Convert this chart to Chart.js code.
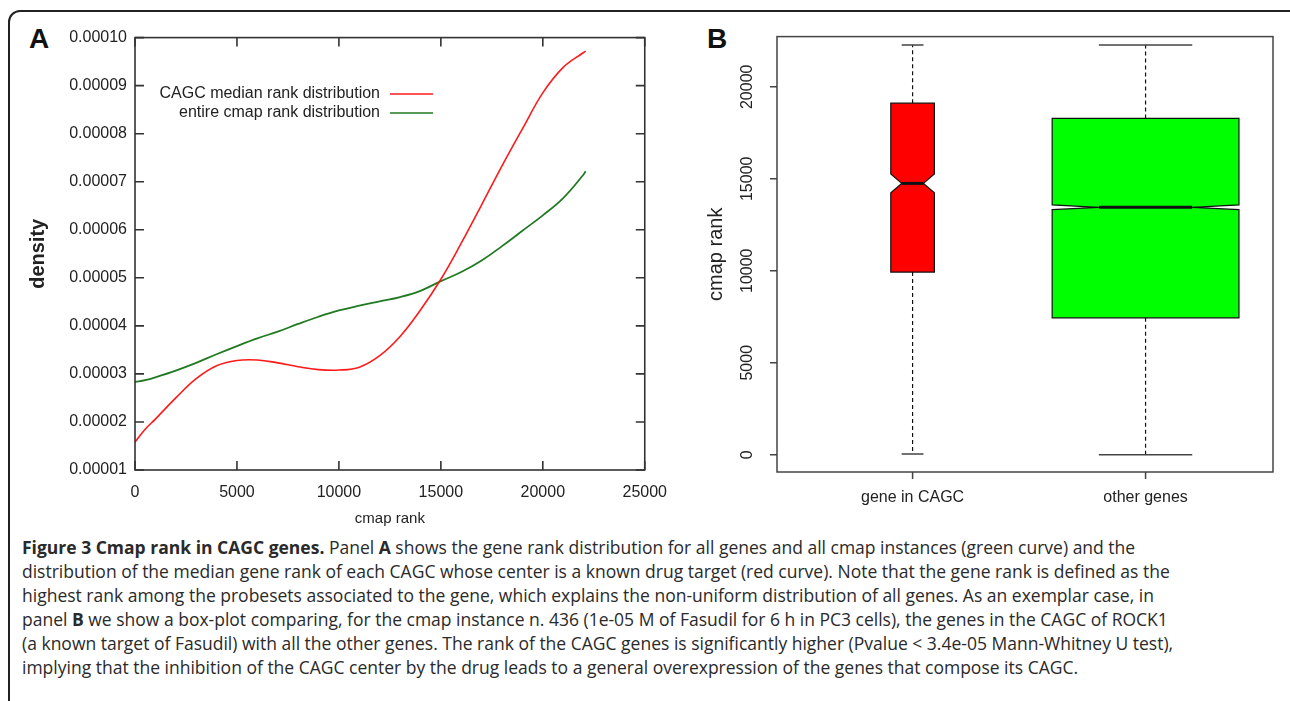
<!DOCTYPE html>
<html>
<head>
<meta charset="utf-8">
<script src="https://cdn.jsdelivr.net/npm/chart.js@4"></script>
<style>
  body { margin: 0; background: #fff; width: 1290px; height: 701px; overflow: hidden; position: relative; font-family: "Liberation Sans", Arial, sans-serif; }
  .frame { position: absolute; left: 8px; top: 10px; width: 1300px; height: 760px; border: 2px solid #222; border-radius: 12px; box-sizing: border-box; }
  .panel { position: absolute; }
  .letter { position: absolute; font-weight: bold; font-size: 28px; color: #111; }
  .caption { position: absolute; left: 22px; top: 535px; font-family: "Open Sans", sans-serif; font-size: 17.5px; line-height: 24px; color: #2a2a2a; white-space: nowrap; }
</style>
</head>
<body>
<div class="frame"></div>
<div class="letter" style="left:29px;top:23px;">A</div>
<div class="letter" style="left:707px;top:23px;">B</div>
<div class="panel" style="left:20px;top:20px;width:660px;height:510px;"><canvas id="densityChart"></canvas></div>
<div class="panel" style="left:690px;top:20px;width:600px;height:510px;"><canvas id="boxChart"></canvas></div>
<div class="caption">
  <div><b>Figure 3 Cmap rank in CAGC genes.</b> Panel <b>A</b> shows the gene rank distribution for all genes and all cmap instances (green curve) and the</div>
  <div>distribution of the median gene rank of each CAGC whose center is a known drug target (red curve). Note that the gene rank is defined as the</div>
  <div>highest rank among the probesets associated to the gene, which explains the non-uniform distribution of all genes. As an exemplar case, in</div>
  <div>panel <b>B</b> we show a box-plot comparing, for the cmap instance n. 436 (1e-05 M of Fasudil for 6 h in PC3 cells), the genes in the CAGC of ROCK1</div>
  <div>(a known target of Fasudil) with all the other genes. The rank of the CAGC genes is significantly higher (Pvalue &lt; 3.4e-05 Mann-Whitney U test),</div>
  <div>implying that the inhibition of the CAGC center by the drug leads to a general overexpression of the genes that compose its CAGC.</div>
</div>
<script>
// panel A: density curves
const rankX = [0, 500, 1000, 2000, 3000, 4000, 5000, 6000, 7000, 8000, 9000, 10000, 11000,
    12000, 13000, 14000, 15000, 16000, 17000, 18000, 19000, 20000, 21000, 22000, 22100];
const cagcDensity = [1.58e-5, 1.85e-5, 2.06e-5, 2.5e-5, 2.9e-5, 3.17e-5, 3.28e-5, 3.29e-5, 3.23e-5,
    3.15e-5, 3.09e-5, 3.08e-5, 3.14e-5, 3.38e-5, 3.78e-5, 4.33e-5, 4.97e-5, 5.72e-5, 6.52e-5,
    7.33e-5, 8.1e-5, 8.85e-5, 9.38e-5, 9.69e-5, 9.72e-5];
const cmapDensity = [2.83e-5, 2.87e-5, 2.93e-5, 3.07e-5, 3.23e-5, 3.41e-5, 3.58e-5, 3.74e-5, 3.88e-5,
    4.04e-5, 4.19e-5, 4.32e-5, 4.42e-5, 4.51e-5, 4.6e-5, 4.73e-5, 4.93e-5, 5.12e-5, 5.36e-5,
    5.66e-5, 5.98e-5, 6.3e-5, 6.66e-5, 7.15e-5, 7.22e-5];
const densityTicks = [0.00001, 0.00002, 0.00003, 0.00004, 0.00005, 0.00006, 0.00007, 0.00008, 0.00009, 0.0001];
const rankTicks = [0, 5000, 10000, 15000, 20000, 25000];

// panel B: box plot stats
const groups = ['gene in CAGC', 'other genes'];
const whiskerLow = [35, 0];
const boxQ1 = [9930, 7440];
const boxMedian = [14750, 13450];
const boxQ3 = [19110, 18280];
const whiskerHigh = [22270, 22270];
const notchHalf = [510, 130];
const boxTicks = [0, 5000, 10000, 15000, 20000];

const ink = '#222';
const boxHalfWidth = [21.8, 93.4];
const boxColors = ['#ff0000', '#00ff00'];

function toPts(xs, ys) {
    return xs.map((x, i) => ({ x: x, y: ys[i] }));
}

const gnuplotFrame = {
    id: 'gnuplotFrame',
    afterDatasetsDraw(chart) {
        const { ctx, chartArea: a, scales } = chart;
        ctx.save();
        ctx.strokeStyle = '#333';
        ctx.lineWidth = 1.6;
        ctx.strokeRect(a.left, a.top, a.right - a.left, a.bottom - a.top);
        // inward ticks on all four sides
        ctx.beginPath();
        scales.x.ticks.forEach(t => {
            const px = scales.x.getPixelForValue(t.value);
            ctx.moveTo(px, a.bottom); ctx.lineTo(px, a.bottom - 9);
            ctx.moveTo(px, a.top); ctx.lineTo(px, a.top + 9);
        });
        scales.y.ticks.forEach(t => {
            const py = scales.y.getPixelForValue(t.value);
            ctx.moveTo(a.left, py); ctx.lineTo(a.left + 9, py);
            ctx.moveTo(a.right, py); ctx.lineTo(a.right - 9, py);
        });
        ctx.stroke();
        // legend, text left of the sample line
        ctx.font = '16px "Liberation Sans", Arial, sans-serif';
        ctx.textAlign = 'right';
        ctx.textBaseline = 'middle';
        chart.data.datasets.forEach((ds, i) => {
            const y = 74 + i * 19;
            ctx.fillStyle = ink;
            ctx.fillText(ds.label, 360, y);
            ctx.strokeStyle = ds.borderColor;
            ctx.lineWidth = 1.6;
            ctx.beginPath();
            ctx.moveTo(370, y); ctx.lineTo(413, y);
            ctx.stroke();
        });
        ctx.restore();
    }
};

new Chart(document.getElementById('densityChart'), {
    type: 'line',
    data: {
        datasets: [{
            label: 'CAGC median rank distribution',
            data: toPts(rankX, cagcDensity),
            borderColor: '#ff1a1a',
            borderWidth: 1.6,
            pointRadius: 0,
            tension: 0.4
        }, {
            label: 'entire cmap rank distribution',
            data: toPts(rankX, cmapDensity),
            borderColor: '#217a21',
            borderWidth: 1.8,
            pointRadius: 0,
            tension: 0.4
        }]
    },
    options: {
        responsive: true,
        maintainAspectRatio: false,
        animation: false,
        layout: { padding: { top: 17, right: 35, left: 0, bottom: 0 } },
        plugins: { legend: { display: false }, tooltip: { enabled: false } },
        scales: {
            x: {
                type: 'linear',
                min: 0,
                max: 25000,
                afterBuildTicks: s => { s.ticks = rankTicks.map(v => ({ value: v })); },
                afterFit: s => { s.height = 60; },
                grid: { display: false, drawTicks: false },
                border: { display: false },
                ticks: { padding: 13, color: ink, font: { size: 16, family: '"Liberation Sans", Arial' }, callback: v => String(v), maxRotation: 0 },
                title: { display: true, text: 'cmap rank', color: ink, font: { size: 15, family: '"Liberation Sans", Arial' }, padding: { top: 0, bottom: 2 } }
            },
            y: {
                min: 0.00001,
                max: 0.0001,
                afterBuildTicks: s => { s.ticks = densityTicks.map(v => ({ value: v })); },
                afterFit: s => { s.width = 115; },
                grid: { display: false, drawTicks: false },
                border: { display: false },
                ticks: { padding: 8, color: ink, font: { size: 16, family: '"Liberation Sans", Arial' }, callback: v => v.toFixed(5) },
                title: { display: true, text: 'density', color: ink, font: { size: 20, weight: 'bold', family: '"Liberation Sans", Arial' }, padding: { top: 6, bottom: 0 } }
            }
        }
    },
    plugins: [gnuplotFrame]
});

const notchedBoxes = {
    id: 'notchedBoxes',
    afterDatasetsDraw(chart) {
        const { ctx, chartArea: a, scales } = chart;
        const xs = scales.x, ys = scales.y;
        ctx.save();
        groups.forEach((g, i) => {
            const cx = xs.getPixelForValue(i + 1);
            const w = boxHalfWidth[i];
            const yQ1 = ys.getPixelForValue(boxQ1[i]);
            const yQ3 = ys.getPixelForValue(boxQ3[i]);
            const yMed = ys.getPixelForValue(boxMedian[i]);
            const yLo = ys.getPixelForValue(boxMedian[i] - notchHalf[i]);
            const yHi = ys.getPixelForValue(boxMedian[i] + notchHalf[i]);
            const yMin = ys.getPixelForValue(whiskerLow[i]);
            const yMax = ys.getPixelForValue(whiskerHigh[i]);
            // whiskers
            ctx.strokeStyle = '#111';
            ctx.lineWidth = 1.2;
            ctx.setLineDash([4, 3]);
            ctx.beginPath();
            ctx.moveTo(cx, yQ3); ctx.lineTo(cx, yMax);
            ctx.moveTo(cx, yQ1); ctx.lineTo(cx, yMin);
            ctx.stroke();
            ctx.setLineDash([]);
            ctx.strokeStyle = '#444';
            ctx.lineWidth = 1.4;
            ctx.beginPath();
            ctx.moveTo(cx - w / 2, yMax); ctx.lineTo(cx + w / 2, yMax);
            ctx.moveTo(cx - w / 2, yMin); ctx.lineTo(cx + w / 2, yMin);
            ctx.stroke();
            // notched box
            ctx.beginPath();
            ctx.moveTo(cx - w, yQ1);
            ctx.lineTo(cx - w, yLo);
            ctx.lineTo(cx - w / 2, yMed);
            ctx.lineTo(cx - w, yHi);
            ctx.lineTo(cx - w, yQ3);
            ctx.lineTo(cx + w, yQ3);
            ctx.lineTo(cx + w, yHi);
            ctx.lineTo(cx + w / 2, yMed);
            ctx.lineTo(cx + w, yLo);
            ctx.lineTo(cx + w, yQ1);
            ctx.closePath();
            ctx.fillStyle = boxColors[i];
            ctx.fill();
            ctx.strokeStyle = '#111';
            ctx.lineWidth = 1.2;
            ctx.stroke();
            ctx.lineWidth = 3;
            ctx.beginPath();
            ctx.moveTo(cx - w / 2, yMed); ctx.lineTo(cx + w / 2, yMed);
            ctx.stroke();
        });
        // frame and outward ticks
        ctx.strokeStyle = '#444';
        ctx.lineWidth = 1.5;
        ctx.strokeRect(a.left, a.top, a.right - a.left, a.bottom - a.top);
        ctx.beginPath();
        ys.ticks.forEach(t => {
            const py = ys.getPixelForValue(t.value);
            ctx.moveTo(a.left, py); ctx.lineTo(a.left - 7, py);
        });
        xs.ticks.forEach(t => {
            const px = xs.getPixelForValue(t.value);
            ctx.moveTo(px, a.bottom); ctx.lineTo(px, a.bottom + 7);
        });
        ctx.stroke();
        ctx.restore();
    }
};

new Chart(document.getElementById('boxChart'), {
    type: 'scatter',
    data: {
        datasets: [{
            label: 'median',
            data: boxMedian.map((m, i) => ({ x: i + 1, y: m })),
            pointRadius: 0
        }]
    },
    options: {
        responsive: true,
        maintainAspectRatio: false,
        animation: false,
        layout: { padding: { top: 15, right: 17, left: 0, bottom: 0 } },
        plugins: { legend: { display: false }, tooltip: { enabled: false } },
        scales: {
            x: {
                type: 'linear',
                min: 0.418,
                max: 2.547,
                afterBuildTicks: s => { s.ticks = groups.map((g, i) => ({ value: i + 1 })); },
                afterFit: s => { s.height = 58; },
                grid: { display: false, drawTicks: false },
                border: { display: false },
                ticks: { padding: 16, color: ink, font: { size: 16, family: '"Liberation Sans", Arial' }, maxRotation: 0, callback: v => groups[Math.round(v) - 1] }
            },
            y: {
                min: -940,
                max: 22730,
                afterBuildTicks: s => { s.ticks = boxTicks.map(v => ({ value: v })); },
                afterFit: s => { s.width = 87; },
                grid: { display: false, drawTicks: false },
                border: { display: false },
                ticks: { padding: 7, color: ink, crossAlign: 'center', minRotation: 90, maxRotation: 90, font: { size: 16, family: '"Liberation Sans", Arial' }, callback: v => String(v) },
                title: { display: true, text: 'cmap rank', color: ink, font: { size: 20, family: '"Liberation Sans", Arial' }, padding: { top: 14, bottom: 0 } }
            }
        }
    },
    plugins: [notchedBoxes]
});
</script>
</body>
</html>
